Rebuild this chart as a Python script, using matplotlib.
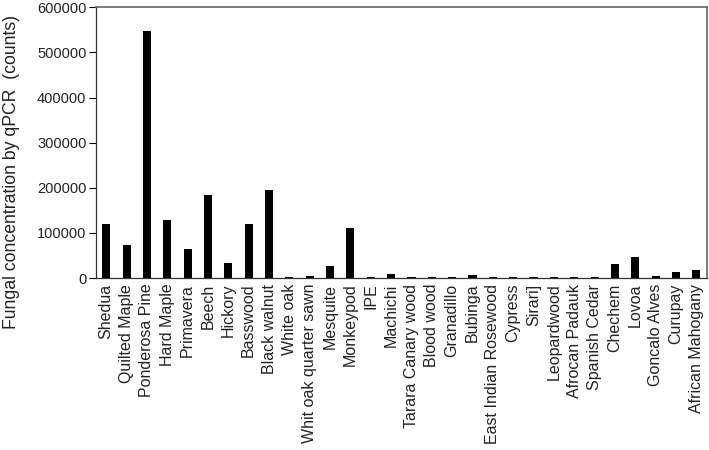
import matplotlib
matplotlib.use("Agg")
import matplotlib.pyplot as plt
import numpy as np

categories = ["Shedua", "Quilted Maple", "Ponderosa Pine", "Hard Maple", "Primavera",
              "Beech", "Hickory", "Basswood", "Black walnut", "White oak",
              "Whit oak quarter sawn", "Mesquite", "Monkeypod", "IPE", "Machichi",
              "Tarara Canary wood", "Blood wood", "Granadillo", "Bubinga",
              "East Indian Rosewood", "Cypress", "Sirari]", "Leopardwood",
              "Afrocan Padauk", "Spanish Cedar", "Chechem", "Lovoa", "Goncalo Alves",
              "Curupay", "African Mahogany"]
values = [120000, 73000, 548000, 129000, 64000,
          183000, 33000, 120000, 195000, 2000,
          4000, 26000, 112000, 1500, 8000,
          1500, 3500, 1500, 6000,
          1500, 3500, 1500, 1500,
          1500, 1500, 31000, 46000, 4000,
          14000, 18000]
yticks = [0, 100000, 200000, 300000, 400000, 500000, 600000]

plt.rcParams['font.family'] = ['Liberation Sans', 'DejaVu Sans']

fig = plt.figure(figsize=(7.09, 4.5), dpi=100)
ax = fig.add_axes([0.1355, 0.382, 0.861, 0.602])
x = np.arange(len(categories))
ax.bar(x, values, width=0.4, color='black')
ax.set_xlim(-0.5, len(categories) - 0.5)
ax.set_ylim(0, 600000)
ax.set_yticks(yticks)
ax.set_yticklabels([str(v) for v in yticks], fontsize=10.5, color='#222222')
ax.set_xticks(x)
ax.set_xticklabels(categories, rotation=90, fontsize=11.5, color='#222222')
ax.tick_params(axis='x', length=0, pad=4)
ax.tick_params(axis='y', direction='out', length=5, width=0.8, pad=2)
ax.set_ylabel("Fungal concentration by qPCR  (counts)", fontsize=12.7, color='#222222')
ax.yaxis.set_label_coords(-0.124, 0.393)
for s in ['left', 'bottom']:
    ax.spines[s].set_color('#333333')
    ax.spines[s].set_linewidth(0.9)
for s in ['top', 'right']:
    ax.spines[s].set_color('#666666')
    ax.spines[s].set_linewidth(1.2)
fig.savefig("out.png", dpi=100)
